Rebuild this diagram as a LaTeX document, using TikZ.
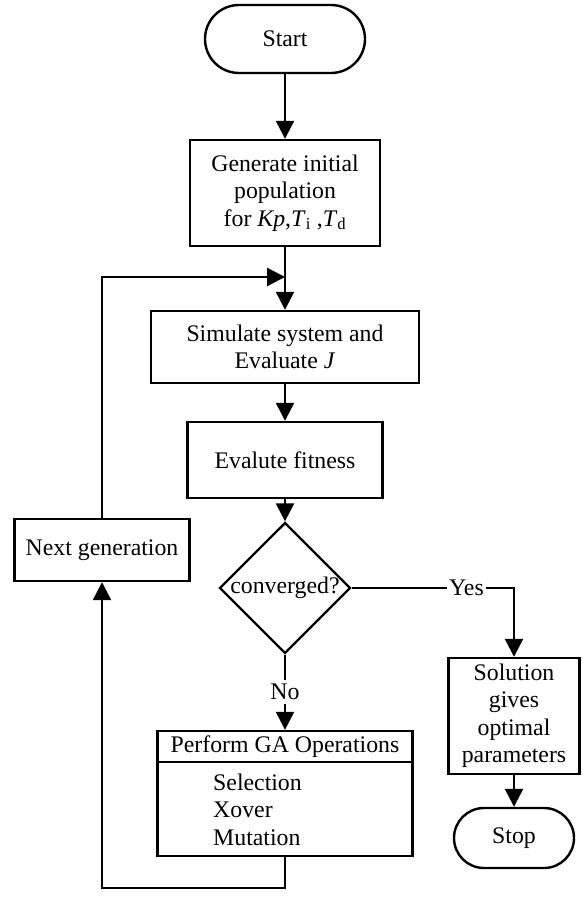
\documentclass[tikz,border=0pt]{standalone}
\usepackage{fontspec}
\setmainfont{Liberation Serif}
\usetikzlibrary{arrows.meta,shapes.geometric}
\begin{document}
\begin{tikzpicture}[x=1pt,y=-1pt,
  every node/.style={font=\fontsize{23.8}{27.5}\selectfont, inner sep=0pt},
  flow/.style={line width=2.4pt},
  arr/.style={flow, -{Triangle[length=18pt,width=18pt]}},
  boxnode/.style={draw, line width=2.4pt, rectangle, align=center},
  termnode/.style={draw, line width=2.4pt, rectangle},
  decide/.style={draw, line width=2.4pt, diamond, aspect=1},
  lbl/.style={fill=white, inner sep=2pt}
]
\fill[white] (0,0) rectangle (582,901);
\useasboundingbox (0,0) rectangle (582,901);

\node[termnode, rounded corners=34pt, minimum width=160pt, minimum height=68pt] (start) at (285,39) {Start};
\node[boxnode, minimum width=190pt, minimum height=106pt] (gen) at (285,193)
  {Generate initial\\population\\for \textit{Kp},\textit{T}\textsubscript{i} ,\textit{T}\textsubscript{d}};
\node[boxnode, minimum width=268pt, minimum height=72pt] (sim) at (285,347)
  {Simulate system and\\Evaluate \textit{J}};
\node[boxnode, minimum width=195pt, minimum height=76pt] (fit) at (285,460) {Evalute fitness};
\node[decide, minimum width=131pt, minimum height=127pt] (conv) at (285,588) {converged?};
\node[boxnode, minimum width=175pt, minimum height=62pt] (nextg) at (102,550) {Next generation};
\node[boxnode, minimum width=131pt, minimum height=116pt] (sol) at (514,716)
  {Solution\\gives\\optimal\\parameters};
\node[termnode, rounded corners=30pt, minimum width=120pt, minimum height=60pt] (stop) at (514,838) {Stop};

% GA operations box
\node[boxnode, minimum width=255pt, minimum height=125pt] (ga) at (285,793.5) {};
\node (gahead) at (285,746.5) {Perform GA Operations};
\coordinate (gasep) at (285,762);
\draw[flow] (ga.west |- gasep) -- (ga.east |- gasep);
\node[anchor=west, align=left] (galist) at (213,809.5) {Selection\\Xover\\Mutation};

% coordinates for bends
\coordinate (mj) at (285,277);
\coordinate (lt) at (102,277);
\coordinate (lb) at (102,888);
\coordinate (yc) at (514,588);

% connectors
\draw[arr] (start) -- (gen);
\draw[arr] (gen) -- (sim);
\draw[arr] (sim) -- (fit);
\draw[arr] (fit) -- (conv);
\draw[arr] (conv.east) -- node[lbl, pos=0.707] {Yes} (yc) -- (sol.north);
\draw[arr] (sol) -- (stop);
\draw[arr] (conv.south) -- node[lbl, inner sep=4pt, pos=0.5] {No} (ga.north);
\draw[arr] (ga.south) |- (lb) -- (nextg.south);
\draw[arr] (nextg.north) -- (lt) -- (mj);
\end{tikzpicture}
\end{document}
